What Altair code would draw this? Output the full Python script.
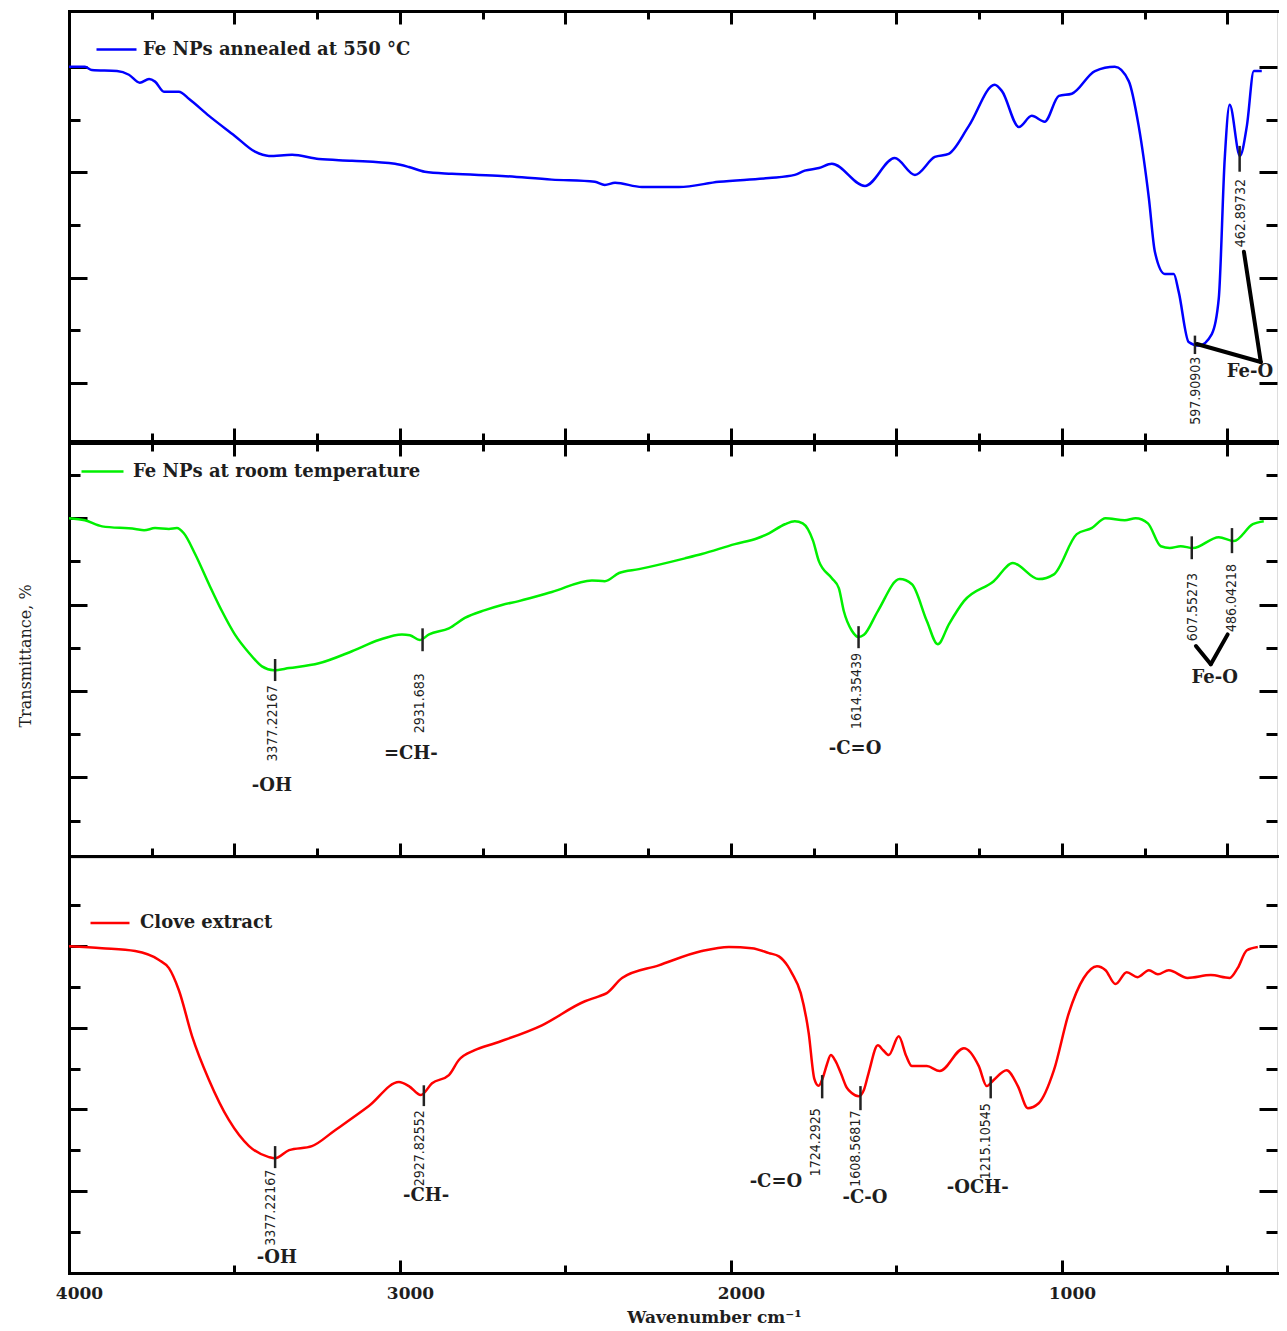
import altair as alt
import pandas as pd

# ---------------- spectra (wavenumber, transmittance in panel units) ----------------
blue_wn = [4000, 3952, 3931, 3855, 3819, 3786, 3758, 3740, 3713, 3668, 3637, 3577, 3499, 3438,
           3396, 3326, 3245, 3145, 3015, 2973, 2925, 2843, 2692, 2541, 2411, 2381, 2350, 2269,
           2157, 2036, 1885, 1807, 1777, 1734, 1695, 1595, 1505, 1444, 1384, 1342, 1281, 1203,
           1181, 1130, 1091, 1052, 1009, 970, 900, 840, 798, 768, 737, 719, 689, 662, 647, 617,
           586, 547, 526, 508, 493, 462, 441, 420, 396]
blue_t = [100, 100, 99.4, 99.2, 98.5, 97.0, 97.7, 97.2, 95.3, 95.3, 93.9, 90.7, 86.9, 83.9,
          83.1, 83.3, 82.5, 82.2, 81.6, 81.0, 80.1, 79.7, 79.3, 78.6, 78.2, 77.6, 78.0, 77.2,
          77.2, 78.2, 78.9, 79.5, 80.3, 80.8, 81.6, 77.4, 82.7, 79.5, 82.9, 83.5, 88.8, 96.6,
          95.4, 88.6, 90.7, 89.6, 94.5, 94.9, 99.2, 100, 97.3, 88.8, 75.0, 64.9, 60.7, 60.7, 57.3, 47.8,
          47.1, 49.3, 56.0, 82.5, 92.8, 83.1, 88.8, 99.2, 99.2]

green_wn = [4000, 3952, 3900, 3800, 3773, 3740, 3698, 3674, 3653, 3619, 3577, 3538, 3499, 3456,
            3417, 3381, 3335, 3245, 3145, 3064, 2994, 2970, 2940, 2912, 2852, 2804, 2743, 2692,
            2641, 2541, 2420, 2381, 2338, 2278, 2139, 2088, 1988, 1918, 1885, 1837, 1807, 1783,
            1752, 1734, 1695, 1674, 1659, 1635, 1614, 1598, 1556, 1490, 1453, 1408, 1375, 1341,
            1296, 1206, 1148, 1070, 1024, 955, 910, 868, 810, 777, 740, 701, 674, 641, 604, 526,
            480, 423, 390]
green_t = [100, 99.5, 98.1, 97.5, 97.2, 97.7, 97.5, 97.7, 96.5, 91.7, 84.7, 78.5, 73.1, 68.8,
           65.7, 64.8, 65.3, 66.4, 69.2, 71.8, 73.1, 72.9, 71.8, 73.1, 74.5, 76.9, 78.7, 79.9,
           80.8, 82.9, 85.6, 85.4, 87.3, 88.2, 90.7, 91.7, 94.0, 95.4, 96.5, 98.6, 99.3, 98.8,
           94.8, 90.0, 86.1, 83.8, 78.5, 74.0, 72.5, 73.0, 78.5, 85.9, 84.7, 76.2, 70.8, 75.5,
           80.8, 85.4, 89.6, 85.9, 87.0, 96.3, 97.7, 100, 99.5, 100, 98.8, 93.5, 93.1, 93.5, 93.1, 95.6,
           94.7, 98.6, 99.3]

red_wn = [4000, 3900, 3800, 3728, 3698, 3668, 3628, 3577, 3517, 3456, 3396, 3378, 3335, 3266,
          3196, 3094, 3003, 2973, 2937, 2903, 2852, 2822, 2774, 2713, 2571, 2441, 2399, 2375,
          2329, 2218, 2088, 2006, 1937, 1885, 1855, 1828, 1816, 1789, 1765, 1748, 1735, 1722,
          1710, 1698, 1685, 1668, 1650, 1635, 1614, 1598, 1584, 1556, 1540, 1523, 1493, 1470,
          1453, 1408, 1369, 1296, 1251, 1227, 1206, 1167, 1133, 1103, 1070, 1024, 979, 934, 894,
          868, 838, 804, 771, 737, 710, 677, 620, 550, 493, 469, 441, 408]
red_t = [100, 99.5, 98.8, 96.6, 94.6, 89.2, 77.9, 67.2, 57.4, 51.0, 48.3, 48.0, 50.0, 51.0,
         54.9, 60.8, 66.7, 65.7, 63.5, 66.4, 68.4, 72.1, 74.5, 76.2, 80.6, 86.5, 87.7, 88.5,
         92.2, 95.3, 98.8, 99.8, 99.5, 98.3, 97.5, 95.1, 93.4, 88.5, 78.7, 67.5, 65.8, 67.8,
         71.0, 73.3, 72.0, 68.9, 65.3, 64.0, 63.2, 64.8, 68.9, 75.7, 74.5, 73.3, 77.9, 73.0,
         70.6, 70.6, 69.4, 75.0, 70.6, 65.7, 67.2, 69.6, 65.7, 60.3, 61.5, 69.6, 83.6, 92.2, 95.1,
         94.1, 90.7, 93.6, 92.4, 94.1, 93.1, 94.1, 92.2, 92.9, 92.2, 94.6, 99.0, 99.8]

# ---------------- annotations ----------------
top_mk_wn = [597.90903, 462.89732]
top_mk_hi = [49.0, 85.0]
top_mk_lo = [45.5, 80.1]
top_lb_text = ["597.90903", "462.89732"]
top_lb_wn = [595, 458]
top_lb_t = [45.0, 78.7]
top_gp_text = ["Fe-O"]
top_gp_wn = [432]
top_gp_t = [42.1]
top_cn_wn1 = [592, 450]
top_cn_t1 = [47.4, 64.9]
top_cn_wn2 = [399, 399]
top_cn_t2 = [44.0, 44.0]

mid_mk_wn = [3377.22167, 2931.683, 1614.35439, 607.55273, 486.04218]
mid_mk_hi = [67.4, 74.5, 75.0, 95.8, 97.7]
mid_mk_lo = [62.3, 69.2, 69.9, 90.5, 91.9]
mid_lb_text = ["3377.22167", "2931.683", "1614.35439", "607.55273", "486.04218"]
mid_lb_wn = [3385, 2940, 1619, 604, 487]
mid_lb_t = [61.3, 64.1, 68.8, 87.3, 89.4]
mid_gp_text = ["-OH", "=CH-", "-C=O", "Fe-O"]
mid_gp_wn = [3387, 2967, 1625, 538]
mid_gp_t = [38.0, 45.4, 46.5, 63.0]
mid_cn_wn1 = [595, 550]
mid_cn_t1 = [70.4, 66.2]
mid_cn_wn2 = [550, 499]
mid_cn_t2 = [66.2, 73.1]

bot_mk_wn = [3377.22167, 2927.82552, 1724.2925, 1608.56817, 1215.10545]
bot_mk_hi = [51.0, 65.9, 68.4, 65.7, 68.1]
bot_mk_lo = [45.6, 60.8, 62.7, 59.8, 62.7]
bot_lb_text = ["3377.22167", "2927.82552", "1724.2925", "1608.56817", "1215.10545"]
bot_lb_wn = [3390, 2940, 1743, 1622, 1230]
bot_lb_t = [45.2, 59.8, 60.3, 59.7, 61.5]
bot_gp_text = ["-OH", "-CH-", "-C=O", "-C-O", "-OCH-"]
bot_gp_wn = [3372, 2921, 1864, 1595, 1254]
bot_gp_t = [23.5, 38.7, 42.2, 38.2, 40.7]

# ---------------- axes ticks ----------------
x_ticks_fine = [500, 750, 1000, 1250, 1500, 1750, 2000, 2250, 2500, 2750, 3000, 3250, 3500, 3750]
x_ticks_bottom = [500, 1000, 1500, 2000, 2500, 3000, 3500, 4000]
y_ticks_top = [40, 50, 60, 70, 80, 90, 100]
y_ticks_other = [30, 40, 50, 60, 70, 80, 90, 100, 110]

SERIF = "DejaVu Serif"
NARROW = "Liberation Sans Narrow, DejaVu Sans Condensed, sans-serif"
INK = "#1e1e1e"
X_DOMAIN = [4000, 350]
W = 1208


def tick_dash(mod, short):
    return {"condition": {"test": f"datum.value % {mod} !== 0", "value": [short, 100]},
            "value": [100, 0]}


def x_axis(orient, values, mod, **kw):
    base = dict(orient=orient, values=values, grid=False, domain=True, domainWidth=3,
                domainColor="black", domainCap="square",
                tickSize={"expr": "-13"}, tickWidth=3, tickColor="black",
                tickDash=tick_dash(mod, 8))
    if "labelExpr" not in kw:
        base["labels"] = False
        base["title"] = None
    base.update(kw)
    return alt.Axis(**base)


def y_axis(orient, values, height=None, opacity=None):
    base = dict(orient=orient, values=values, grid=False, labels=False, minExtent=0,
                tickSize={"expr": "-18"}, tickWidth=3, tickColor="black",
                tickDash=tick_dash(20, 11))
    if orient == "left":
        base.update(domain=True, domainWidth=3, domainColor="black", domainCap="square")
    else:
        base["domain"] = False
    if opacity is None:
        base["title"] = None
    else:
        base.update(title="Transmittance, %", titleOpacity=opacity, titleX=-44,
                    titleY=height / 2 + 6, titleAngle=270, titleAlign="center",
                    titleBaseline="middle", titleFont=SERIF, titleFontSize=16,
                    titleFontWeight="normal", titleColor=INK)
    return alt.Axis(**base)


def panel(name, color, wn, t, ydom, height, yvals, leg, mk, lb, gp, cn, title_opacity, bottom):
    xs = alt.Scale(domain=X_DOMAIN, nice=False, zero=False)
    ys = alt.Scale(domain=ydom, nice=False, zero=False)
    df = pd.DataFrame({"wn": wn, "t": t, "series": name})
    if bottom:
        xb = x_axis("bottom", x_ticks_bottom, 1000, format="d",
                    labelExpr="datum.value % 1000 === 0 ? datum.label : ''",
                    labelFont=SERIF, labelFontSize=17, labelFontWeight="bold", labelColor=INK,
                    labelPadding=33, labelOffset=10, labelFlush=False, labelOverlap=False,
                    labelBaseline="middle",
                    title="Wavenumber cm\u207b\u00b9", titleFont=SERIF, titleFontSize=17,
                    titleFontWeight="bold", titleColor=INK, titleX=645, titleY=44,
                    titleAlign="center", titleBaseline="middle")
        xt = None
    else:
        xb = x_axis("bottom", x_ticks_fine, 500)
        xt = x_axis("top", x_ticks_fine, 500)

    line = alt.Chart(df).mark_line(strokeWidth=2.5, interpolate="monotone").encode(
        x=alt.X("wn:Q", scale=xs, axis=xb),
        y=alt.Y("t:Q", scale=ys, axis=y_axis("left", yvals, height, title_opacity)),
        color=alt.Color("series:N", scale=alt.Scale(domain=[name], range=[color]),
                        legend=alt.Legend(orient="none", legendX=leg[0], legendY=leg[1],
                                          title=None, symbolType="stroke", symbolSize=leg[2],
                                          symbolStrokeWidth=2.5, labelFont=SERIF,
                                          labelFontSize=18, labelFontWeight="bold",
                                          labelColor=INK, labelOffset=leg[3], labelLimit=500,
                                          padding=0)),
    )

    mk_df = pd.DataFrame({"wn": mk[0], "hi": mk[1], "lo": mk[2]})
    mk_x = alt.X("wn:Q", scale=xs, axis=xt) if xt is not None else alt.X("wn:Q", scale=xs, axis=None)
    markers = alt.Chart(mk_df).mark_rule(color="#222222", strokeWidth=2.5).encode(
        x=mk_x,
        y=alt.Y("hi:Q", scale=ys, axis=y_axis("right", yvals)),
        y2="lo:Q",
    )

    lb_df = pd.DataFrame({"wn": lb[1], "t": lb[2], "text": lb[0]})
    labels = alt.Chart(lb_df).mark_text(angle=270, align="right", baseline="middle",
                                        font=NARROW, fontSize=14, color=INK).encode(
        x=alt.X("wn:Q", scale=xs, axis=None),
        y=alt.Y("t:Q", scale=ys, axis=None),
        text="text:N",
    )

    gp_df = pd.DataFrame({"wn": gp[1], "t": gp[2], "text": gp[0]})
    groups = alt.Chart(gp_df).mark_text(align="center", baseline="middle", font=SERIF,
                                        fontSize=18, fontWeight="bold", color=INK).encode(
        x=alt.X("wn:Q", scale=xs, axis=None),
        y=alt.Y("t:Q", scale=ys, axis=None),
        text="text:N",
    )

    layers = [line, markers, labels, groups]
    if cn is not None:
        cn_df = pd.DataFrame({"wn1": cn[0], "t1": cn[1], "wn2": cn[2], "t2": cn[3]})
        conn = alt.Chart(cn_df).mark_rule(color="black", strokeWidth=4, strokeCap="round").encode(
            x=alt.X("wn1:Q", scale=xs, axis=None),
            y=alt.Y("t1:Q", scale=ys, axis=None),
            x2="wn2:Q",
            y2="t2:Q",
        )
        layers.append(conn)

    return alt.layer(*layers).resolve_axis(x="independent", y="independent").properties(
        width=W, height=height)


top = panel("Fe NPs annealed at 550 \u00b0C", "#0000ff", blue_wn, blue_t, [29.0, 110.6], 430,
            y_ticks_top, (26, 17, 1600, 5),
            (top_mk_wn, top_mk_hi, top_mk_lo), (top_lb_text, top_lb_wn, top_lb_t),
            (top_gp_text, top_gp_wn, top_gp_t),
            (top_cn_wn1, top_cn_t1, top_cn_wn2, top_cn_t2), 0, False)

mid = panel("Fe NPs at room temperature", "#00f000", green_wn, green_t, [21.8, 117.4], 413,
            y_ticks_other, (11, 6, 1764, 8),
            (mid_mk_wn, mid_mk_hi, mid_mk_lo), (mid_lb_text, mid_lb_wn, mid_lb_t),
            (mid_gp_text, mid_gp_wn, mid_gp_t),
            (mid_cn_wn1, mid_cn_t1, mid_cn_wn2, mid_cn_t2), 1, False)

bot = panel("Clove extract", "#ff0000", red_wn, red_t, [19.9, 121.6], 415,
            y_ticks_other, (20, 44, 1521, 9),
            (bot_mk_wn, bot_mk_hi, bot_mk_lo), (bot_lb_text, bot_lb_wn, bot_lb_t),
            (bot_gp_text, bot_gp_wn, bot_gp_t), None, 0, True)

chart = alt.vconcat(top, mid, bot, spacing=-3).resolve_scale(color="independent").properties(
    padding={"left": 8, "top": 1, "right": 0, "bottom": 0}
).configure_view(strokeWidth=0).configure(background="white")

chart.save("out.html", embed_options={"renderer": "svg", "actions": False})
